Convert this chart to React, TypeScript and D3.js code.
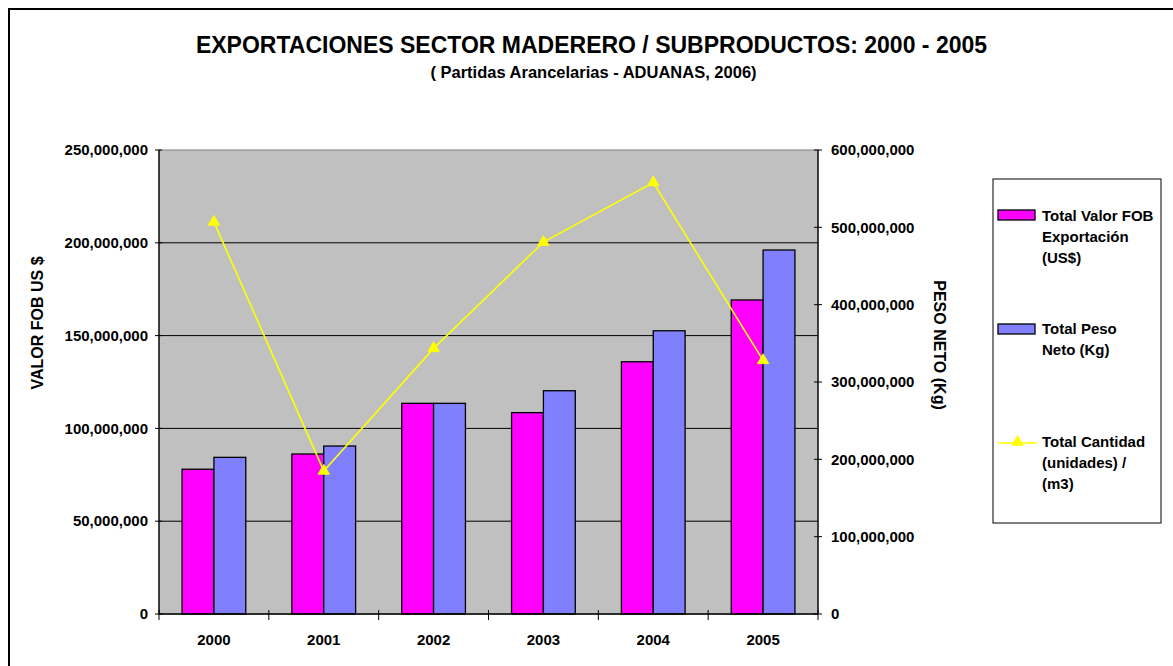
import React from "react";
import * as d3 from "d3";

const years = ["2000", "2001", "2002", "2003", "2004", "2005"];
// left axis (US$)
const valorFob = [78000000, 86200000, 113500000, 108500000, 135900000, 169200000];
const pesoNeto = [84400000, 90500000, 113500000, 120300000, 152600000, 196100000];
// right axis
const cantidad = [507000000, 185000000, 343500000, 481000000, 558000000, 328000000];

const leftTicks = [0, 50000000, 100000000, 150000000, 200000000, 250000000];
const rightTicks = [0, 100000000, 200000000, 300000000, 400000000, 500000000, 600000000];

const W = 1173;
const H = 666;
const plot = { left: 159, right: 818, top: 150, bottom: 614 };
const font = "'Liberation Sans', Arial, sans-serif";
const fmt = d3.format(",");

const App = () => {
  const x0 = d3
    .scaleBand()
    .domain(years)
    .range([plot.left, plot.right])
    .paddingInner(0.42)
    .paddingOuter(0.21);
  const x1 = d3.scaleBand().domain(["fob", "peso"]).range([0, x0.bandwidth()]);
  const yL = d3.scaleLinear().domain([0, 250000000]).range([plot.bottom, plot.top]);
  const yR = d3.scaleLinear().domain([0, 600000000]).range([plot.bottom, plot.top]);
  const step = (plot.right - plot.left) / years.length;
  const cx = (d: string) => (x0(d) as number) + x0.bandwidth() / 2;

  const line = d3
    .line<number>()
    .x((_, i) => cx(years[i]))
    .y((d) => yR(d));
  const tri = d3.symbol(d3.symbolTriangle, 55)() as string;

  const legendText = { fontFamily: font, fontWeight: "bold", fontSize: 15 } as const;

  return (
    <svg
      width={W}
      height={H}
      style={{ position: "absolute", left: 0, top: 0, background: "#fff" }}
    >
      <rect x={9} y={9} width={W} height={H} fill="#fff" stroke="#000" strokeWidth={2} />

      <text
        x={591.5}
        y={53}
        textAnchor="middle"
        fontFamily={font}
        fontWeight="bold"
        fontSize={23}
      >
        EXPORTACIONES SECTOR MADERERO / SUBPRODUCTOS: 2000 - 2005
      </text>
      <text
        x={593.5}
        y={78}
        textAnchor="middle"
        fontFamily={font}
        fontWeight="bold"
        fontSize={16.5}
      >
        ( Partidas Arancelarias - ADUANAS, 2006)
      </text>

      {/* plot area */}
      <rect
        x={plot.left}
        y={plot.top}
        width={plot.right - plot.left}
        height={plot.bottom - plot.top}
        fill="#c0c0c0"
        stroke="#808080"
        strokeWidth={1}
      />
      {leftTicks.slice(1, -1).map((t) => (
        <line
          key={t}
          x1={plot.left}
          x2={plot.right}
          y1={yL(t)}
          y2={yL(t)}
          stroke="#000"
          strokeWidth={1}
        />
      ))}

      {/* bars */}
      {years.map((yr, i) => (
        <g key={yr}>
          <rect
            x={(x0(yr) as number) + (x1("fob") as number)}
            y={yL(valorFob[i])}
            width={x1.bandwidth()}
            height={plot.bottom - yL(valorFob[i])}
            fill="#ff00ff"
            stroke="#000"
            strokeWidth={1.3}
          />
          <rect
            x={(x0(yr) as number) + (x1("peso") as number)}
            y={yL(pesoNeto[i])}
            width={x1.bandwidth()}
            height={plot.bottom - yL(pesoNeto[i])}
            fill="#8080ff"
            stroke="#000"
            strokeWidth={1.3}
          />
        </g>
      ))}

      {/* line */}
      <path d={line(cantidad) as string} fill="none" stroke="#ffff00" strokeWidth={1.6} />
      {cantidad.map((v, i) => (
        <path
          key={i}
          d={tri}
          transform={`translate(${cx(years[i])},${yR(v)})`}
          fill="#ffff00"
          stroke="#ffff00"
        />
      ))}

      {/* axes */}
      <line x1={plot.left} x2={plot.left} y1={plot.top} y2={plot.bottom} stroke="#000" strokeWidth={1.3} />
      <line x1={plot.right} x2={plot.right} y1={plot.top} y2={plot.bottom} stroke="#000" strokeWidth={1.3} />
      <line x1={plot.left} x2={plot.right} y1={plot.bottom} y2={plot.bottom} stroke="#000" strokeWidth={1.3} />

      {leftTicks.map((t) => (
        <g key={t}>
          <line x1={plot.left - 4} x2={plot.left + 3} y1={yL(t)} y2={yL(t)} stroke="#000" />
          <text
            x={148}
            y={yL(t)}
            dy="0.35em"
            textAnchor="end"
            fontFamily={font}
            fontWeight="bold"
            fontSize={15}
          >
            {fmt(t)}
          </text>
        </g>
      ))}
      {rightTicks.map((t) => (
        <g key={t}>
          <line x1={plot.right - 4} x2={plot.right + 4} y1={yR(t)} y2={yR(t)} stroke="#000" />
          <text
            x={831}
            y={yR(t)}
            dy="0.35em"
            fontFamily={font}
            fontWeight="bold"
            fontSize={15}
          >
            {fmt(t)}
          </text>
        </g>
      ))}
      {d3.range(years.length + 1).map((k) => (
        <line
          key={k}
          x1={plot.left + k * step}
          x2={plot.left + k * step}
          y1={plot.bottom - 4}
          y2={plot.bottom + 6}
          stroke="#000"
        />
      ))}
      {years.map((yr) => (
        <text
          key={yr}
          x={cx(yr)}
          y={645}
          textAnchor="middle"
          fontFamily={font}
          fontWeight="bold"
          fontSize={15}
        >
          {yr}
        </text>
      ))}

      {/* axis titles */}
      <text
        transform="translate(43,323) rotate(-90)"
        textAnchor="middle"
        fontFamily={font}
        fontWeight="bold"
        fontSize={16}
      >
        VALOR FOB US $
      </text>
      <text
        transform="translate(934,345) rotate(90)"
        textAnchor="middle"
        fontFamily={font}
        fontWeight="bold"
        fontSize={16}
      >
        PESO NETO (Kg)
      </text>

      {/* legend */}
      <rect x={993} y={179} width={168} height={344} fill="#fff" stroke="#000" strokeWidth={1} />
      <rect x={998} y={210} width={37} height={10} fill="#ff00ff" stroke="#000" strokeWidth={1.3} />
      <text x={1042} y={221} {...legendText}>
        <tspan x={1042}>Total Valor FOB</tspan>
        <tspan x={1042} dy={21}>Exportación</tspan>
        <tspan x={1042} dy={21}>(US$)</tspan>
      </text>
      <rect x={998} y={324} width={37} height={10} fill="#8080ff" stroke="#000" strokeWidth={1.3} />
      <text x={1042} y={334} {...legendText}>
        <tspan x={1042}>Total Peso</tspan>
        <tspan x={1042} dy={21}>Neto (Kg)</tspan>
      </text>
      <line x1={998} x2={1037} y1={443} y2={443} stroke="#ffff00" strokeWidth={1.6} />
      <path d={tri} transform="translate(1017.5,442)" fill="#ffff00" stroke="#ffff00" />
      <text x={1042} y={447} {...legendText}>
        <tspan x={1042}>Total Cantidad</tspan>
        <tspan x={1042} dy={21}>(unidades) /</tspan>
        <tspan x={1042} dy={21}>(m3)</tspan>
      </text>
    </svg>
  );
};

export default App;
